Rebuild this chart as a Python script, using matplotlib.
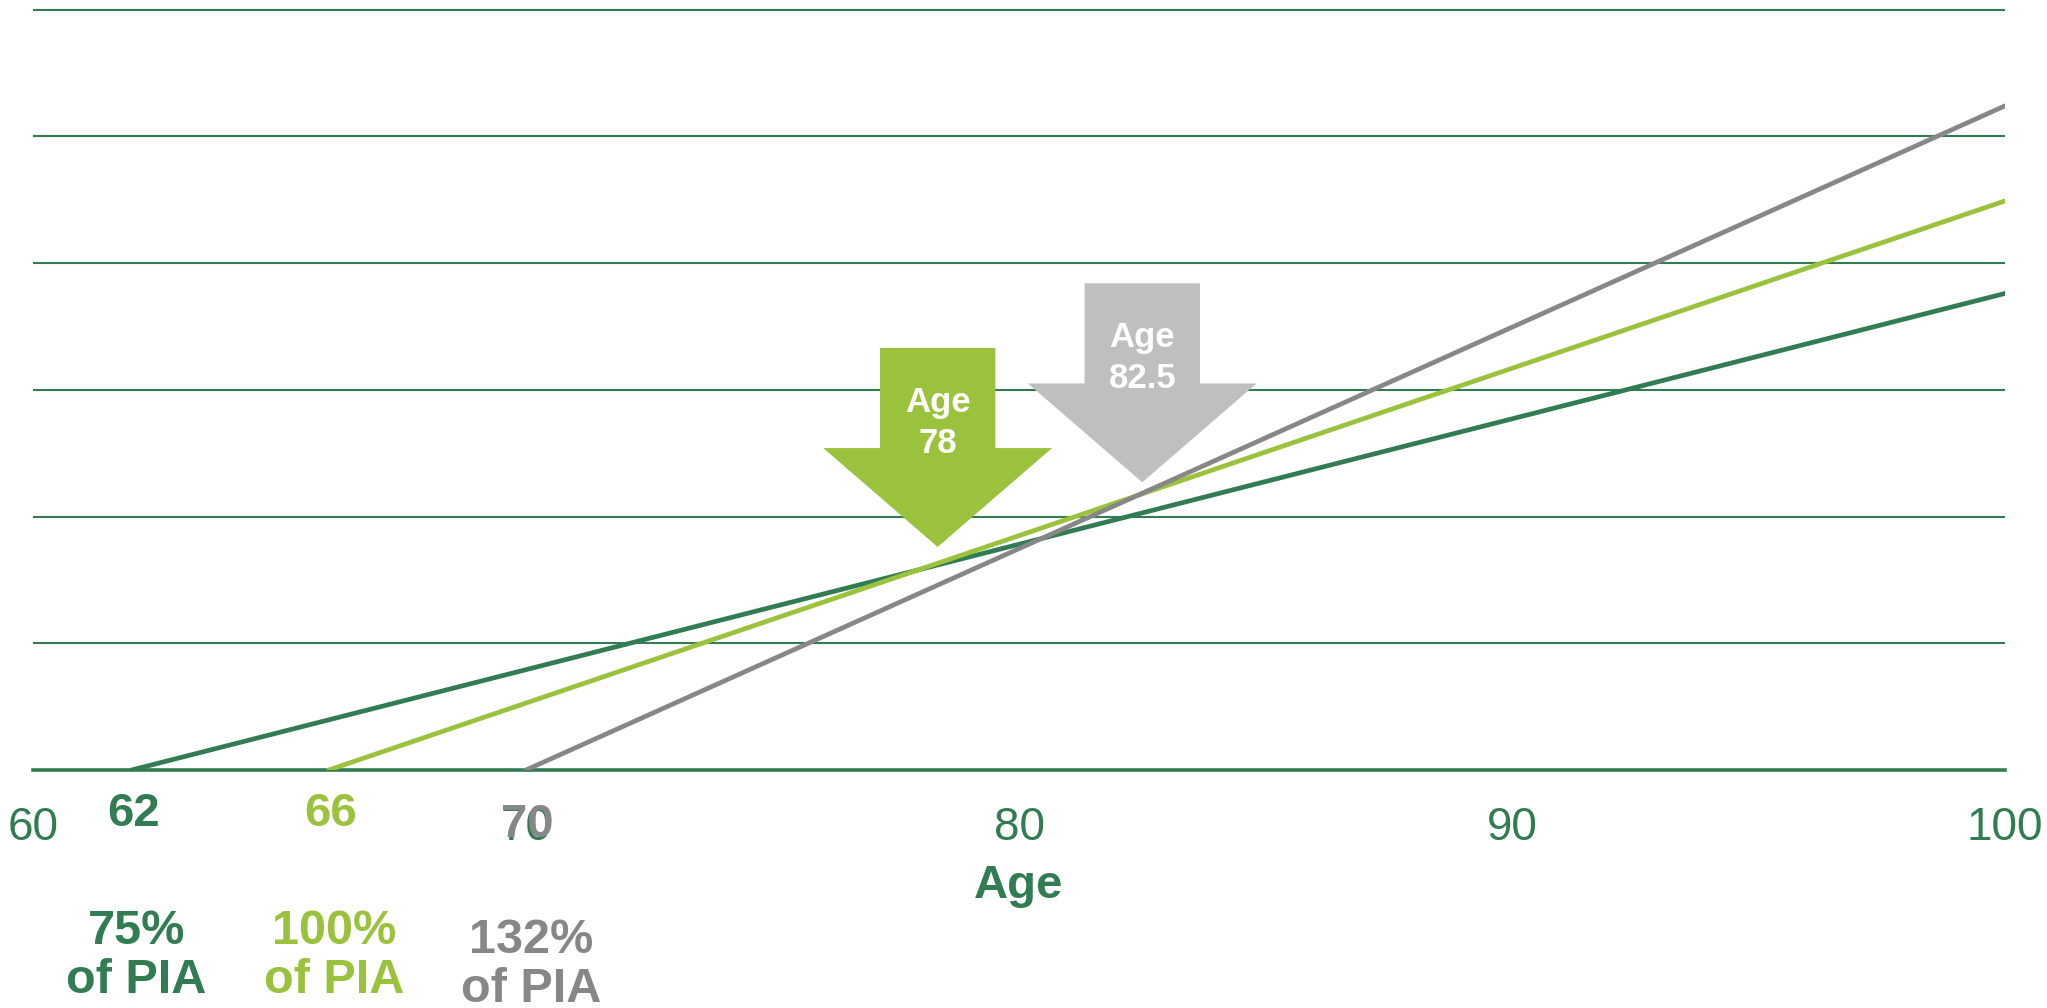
import matplotlib.pyplot as plt
from matplotlib.patches import Polygon

# claiming ages, benefit size and where each line ends at age 100 (gridline units)
claim_ages = [62, 66, 70]
pia_labels = ["75%\nof PIA", "100%\nof PIA", "132%\nof PIA"]
end_age = 100
end_values = [3.76, 4.49, 5.24]
line_colors = ['#317c52', '#9bc23c', '#878787']

# break-even arrows
arrow_labels = ["Age\n78", "Age\n82.5"]
arrow_x = [78.35, 82.5]
arrow_y = [1.76, 2.27]
arrow_colors = ['#9bc23c', '#bfbfbf']

x_ticks = [60, 70, 80, 90, 100]
grid_levels = [1, 2, 3, 4, 5, 6]

green = '#317c52'
font = ['Liberation Sans', 'DejaVu Sans']
W, H = 2047, 1008

fig = plt.figure(figsize=(W / 100, H / 100), dpi=100)
ax = fig.add_axes([33 / W, 238 / H, 1972 / W, 766.8 / H])
ax.set_xlim(60, 100)
ax.set_ylim(0, 6.05)

# horizontal grid
ax.set_yticks(grid_levels)
ax.yaxis.grid(True, color=green, lw=1.5)
ax.tick_params(axis='y', left=False, labelleft=False)
for s in ['top', 'right', 'left']:
    ax.spines[s].set_visible(False)
ax.spines['bottom'].set_color(green)
ax.spines['bottom'].set_linewidth(2.6)
ax.set_axisbelow(True)

ax.set_xticks(x_ticks)
ax.set_xticklabels([str(t) for t in x_ticks], family=font, fontsize=33, color=green)
ax.tick_params(axis='x', length=0, pad=26)
ax.set_xlabel("Age", family=font, fontsize=34, fontweight='bold', color=green, labelpad=10)

# benefit lines
for age, end, c in zip(claim_ages, end_values, line_colors):
    ax.plot([age, end_age], [0, end], color=c, lw=3.4, solid_capstyle='round', zorder=3)

# claiming age labels and benefit share under the axis
label_y = [194, 194, 183]
share_y = [52, 52, 43]
for age, lab, c, ly, sy in zip(claim_ages, pia_labels, line_colors, label_y, share_y):
    ax.annotate(str(age), xy=(age + 0.03, ly), xycoords=('data', 'figure pixels'),
                ha='center', va='center', family=font, fontsize=34,
                fontweight='bold', color=c, zorder=5)
    ax.annotate(lab, xy=(age + 0.1, sy), xycoords=('data', 'figure pixels'),
                ha='center', va='center', family=font, fontsize=35,
                fontweight='bold', color=c, linespacing=1.1)

# arrows pointing at the break-even ages
sw, hw, hl, L = 1.17, 2.32, 0.78, 1.57
for tx, ty, lab, c in zip(arrow_x, arrow_y, arrow_labels, arrow_colors):
    pts = [(tx, ty), (tx - hw, ty + hl), (tx - sw, ty + hl), (tx - sw, ty + L),
           (tx + sw, ty + L), (tx + sw, ty + hl), (tx + hw, ty + hl)]
    ax.add_patch(Polygon(pts, closed=True, facecolor=c, edgecolor='none', zorder=4))
    ax.text(tx, ty + 0.98, lab, ha='center', va='center', fontsize=25,
            fontweight='bold', color='white', family=font,
            linespacing=1.3, zorder=5)

fig.savefig('out.png', dpi=100)
